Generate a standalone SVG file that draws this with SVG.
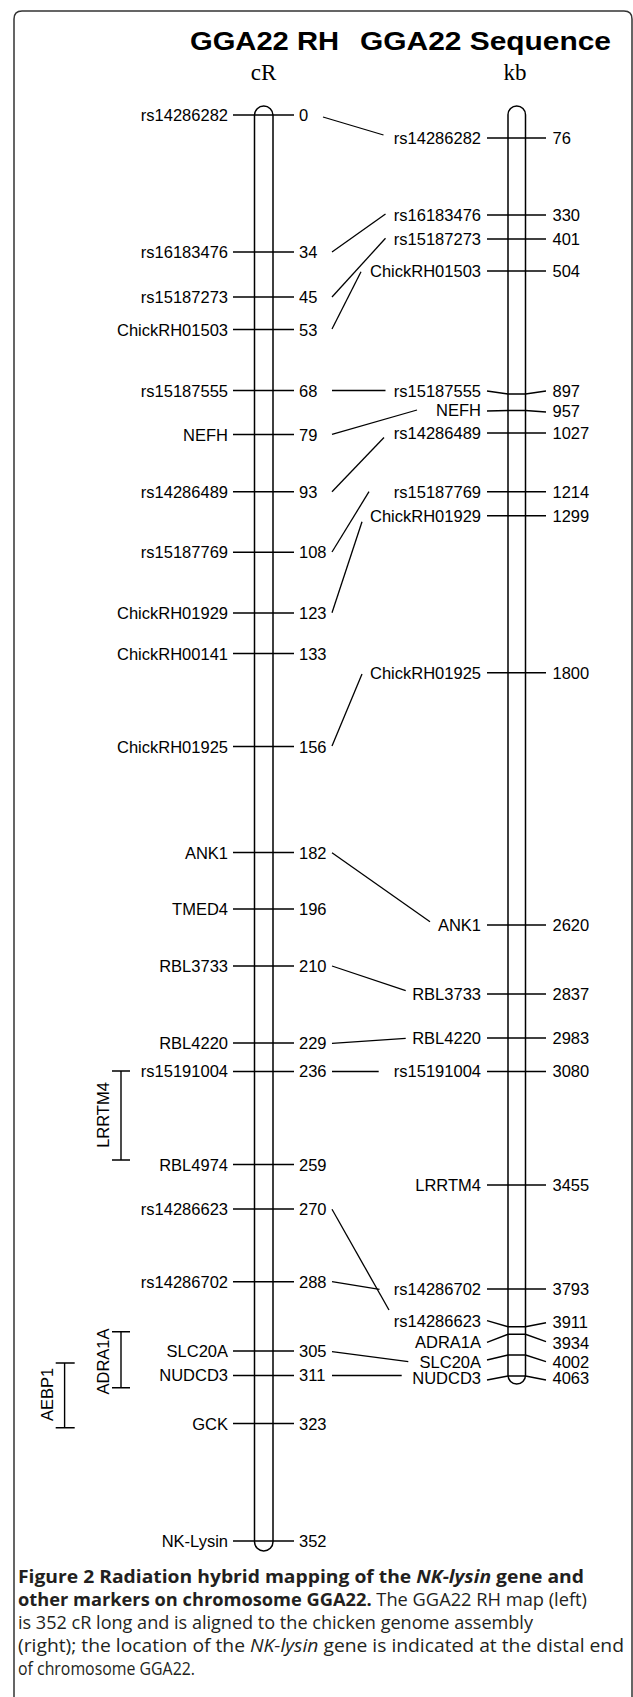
<svg xmlns="http://www.w3.org/2000/svg" width="633" height="1697" viewBox="0 0 633 1697">
<style>
.lb{font-family:"Liberation Sans",Arial,sans-serif;font-size:16.5px;fill:#000}
.e{text-anchor:end}
.tk{stroke:#000;stroke-width:1.4;fill:none}
.cn{stroke:#000;stroke-width:1.3;fill:none}
.chr{stroke:#000;stroke-width:1.5;fill:#fff}
.ttl{font-family:"Liberation Sans",Arial,sans-serif;font-weight:bold;font-size:26px;fill:#000}
.unit{font-family:"Liberation Serif","Times New Roman",serif;font-size:23px;fill:#000;text-anchor:middle}
.cap{font-family:"Open Sans",sans-serif;font-size:18.5px;fill:#231f20}
.b{font-weight:bold}
.i{font-style:italic}
</style>
<rect width="633" height="1697" fill="#fff"/>
<path d="M14,1697 V19 Q14,11 22,11 H624 Q632,11 632,19 V1697" fill="none" stroke="#333" stroke-width="1.5"/>
<g id="title">
<text class="ttl" x="190" y="50" textLength="149" lengthAdjust="spacingAndGlyphs">GGA22 RH</text>
<text class="ttl" x="360" y="50" textLength="251" lengthAdjust="spacingAndGlyphs">GGA22 Sequence</text>
<text class="unit" x="263.5" y="80">cR</text>
<text class="unit" x="515" y="80">kb</text>
</g>
<g id="chr-rh"><rect class="chr" x="254.5" y="106" width="18.5" height="1445" rx="9.25"/></g>
<g id="chr-seq"><rect class="chr" x="508" y="106" width="17.5" height="1278" rx="8.75"/></g>
<g id="rh-markers">
<g id="rh-0"><path class="tk" d="M233,115H294"/><text class="lb e" x="228" y="121">rs14286282</text><text class="lb" x="299" y="121">0</text></g>
<g id="rh-34"><path class="tk" d="M233,252H294"/><text class="lb e" x="228" y="258">rs16183476</text><text class="lb" x="299" y="258">34</text></g>
<g id="rh-45"><path class="tk" d="M233,297H294"/><text class="lb e" x="228" y="303">rs15187273</text><text class="lb" x="299" y="303">45</text></g>
<g id="rh-53"><path class="tk" d="M233,329.5H294"/><text class="lb e" x="228" y="335.5">ChickRH01503</text><text class="lb" x="299" y="335.5">53</text></g>
<g id="rh-68"><path class="tk" d="M233,390.5H294"/><text class="lb e" x="228" y="396.5">rs15187555</text><text class="lb" x="299" y="396.5">68</text></g>
<g id="rh-79"><path class="tk" d="M233,434.5H294"/><text class="lb e" x="228" y="440.5">NEFH</text><text class="lb" x="299" y="440.5">79</text></g>
<g id="rh-93"><path class="tk" d="M233,491.7H294"/><text class="lb e" x="228" y="497.7">rs14286489</text><text class="lb" x="299" y="497.7">93</text></g>
<g id="rh-108"><path class="tk" d="M233,552.3H294"/><text class="lb e" x="228" y="558.3">rs15187769</text><text class="lb" x="299" y="558.3">108</text></g>
<g id="rh-123"><path class="tk" d="M233,613H294"/><text class="lb e" x="228" y="619">ChickRH01929</text><text class="lb" x="299" y="619">123</text></g>
<g id="rh-133"><path class="tk" d="M233,653.5H294"/><text class="lb e" x="228" y="659.5">ChickRH00141</text><text class="lb" x="299" y="659.5">133</text></g>
<g id="rh-156"><path class="tk" d="M233,746.5H294"/><text class="lb e" x="228" y="752.5">ChickRH01925</text><text class="lb" x="299" y="752.5">156</text></g>
<g id="rh-182"><path class="tk" d="M233,852.5H294"/><text class="lb e" x="228" y="858.5">ANK1</text><text class="lb" x="299" y="858.5">182</text></g>
<g id="rh-196"><path class="tk" d="M233,909H294"/><text class="lb e" x="228" y="915">TMED4</text><text class="lb" x="299" y="915">196</text></g>
<g id="rh-210"><path class="tk" d="M233,966H294"/><text class="lb e" x="228" y="972">RBL3733</text><text class="lb" x="299" y="972">210</text></g>
<g id="rh-229"><path class="tk" d="M233,1043H294"/><text class="lb e" x="228" y="1049">RBL4220</text><text class="lb" x="299" y="1049">229</text></g>
<g id="rh-236"><path class="tk" d="M233,1071.5H294"/><text class="lb e" x="228" y="1077">rs15191004</text><text class="lb" x="299" y="1077">236</text></g>
<g id="rh-259"><path class="tk" d="M233,1164.5H294"/><text class="lb e" x="228" y="1170.5">RBL4974</text><text class="lb" x="299" y="1170.5">259</text></g>
<g id="rh-270"><path class="tk" d="M233,1209H294"/><text class="lb e" x="228" y="1215">rs14286623</text><text class="lb" x="299" y="1215">270</text></g>
<g id="rh-288"><path class="tk" d="M233,1281.7H294"/><text class="lb e" x="228" y="1287.7">rs14286702</text><text class="lb" x="299" y="1287.7">288</text></g>
<g id="rh-305"><path class="tk" d="M233,1351H294"/><text class="lb e" x="228" y="1357">SLC20A</text><text class="lb" x="299" y="1357">305</text></g>
<g id="rh-311"><path class="tk" d="M233,1375.5H294"/><text class="lb e" x="228" y="1381.3">NUDCD3</text><text class="lb" x="299" y="1381.3">311</text></g>
<g id="rh-323"><path class="tk" d="M233,1423.5H294"/><text class="lb e" x="228" y="1429.5">GCK</text><text class="lb" x="299" y="1429.5">323</text></g>
<g id="rh-352"><path class="tk" d="M233,1541H294"/><text class="lb e" x="228" y="1547">NK-Lysin</text><text class="lb" x="299" y="1547">352</text></g>
</g>
<g id="seq-markers">
<g id="seq-76"><path class="tk" d="M487,138H546"/><text class="lb e" x="481" y="144">rs14286282</text><text class="lb" x="552.5" y="144">76</text></g>
<g id="seq-330"><path class="tk" d="M487,215H546"/><text class="lb e" x="481" y="221">rs16183476</text><text class="lb" x="552.5" y="221">330</text></g>
<g id="seq-401"><path class="tk" d="M487,239H546"/><text class="lb e" x="481" y="245">rs15187273</text><text class="lb" x="552.5" y="245">401</text></g>
<g id="seq-504"><path class="tk" d="M487,271H546"/><text class="lb e" x="481" y="277">ChickRH01503</text><text class="lb" x="552.5" y="277">504</text></g>
<g id="seq-897"><path class="tk" d="M487,391L508,394H525.5L546,391"/><text class="lb e" x="481" y="397">rs15187555</text><text class="lb" x="552.5" y="397">897</text></g>
<g id="seq-957"><path class="tk" d="M487,411L508,410.5H525.5L546,412"/><text class="lb e" x="481" y="416">NEFH</text><text class="lb" x="552.5" y="417">957</text></g>
<g id="seq-1027"><path class="tk" d="M487,433H546"/><text class="lb e" x="481" y="439">rs14286489</text><text class="lb" x="552.5" y="439">1027</text></g>
<g id="seq-1214"><path class="tk" d="M487,491.7H546"/><text class="lb e" x="481" y="497.7">rs15187769</text><text class="lb" x="552.5" y="497.7">1214</text></g>
<g id="seq-1299"><path class="tk" d="M487,515.7H546"/><text class="lb e" x="481" y="521.7">ChickRH01929</text><text class="lb" x="552.5" y="521.7">1299</text></g>
<g id="seq-1800"><path class="tk" d="M487,672.7H546"/><text class="lb e" x="481" y="678.7">ChickRH01925</text><text class="lb" x="552.5" y="678.7">1800</text></g>
<g id="seq-2620"><path class="tk" d="M487,925H546"/><text class="lb e" x="481" y="931">ANK1</text><text class="lb" x="552.5" y="931">2620</text></g>
<g id="seq-2837"><path class="tk" d="M487,994H546"/><text class="lb e" x="481" y="1000">RBL3733</text><text class="lb" x="552.5" y="1000">2837</text></g>
<g id="seq-2983"><path class="tk" d="M487,1038H546"/><text class="lb e" x="481" y="1044">RBL4220</text><text class="lb" x="552.5" y="1044">2983</text></g>
<g id="seq-3080"><path class="tk" d="M487,1071.5H546"/><text class="lb e" x="481" y="1077">rs15191004</text><text class="lb" x="552.5" y="1077">3080</text></g>
<g id="seq-3455"><path class="tk" d="M487,1185H546"/><text class="lb e" x="481" y="1191">LRRTM4</text><text class="lb" x="552.5" y="1191">3455</text></g>
<g id="seq-3793"><path class="tk" d="M487,1289H546"/><text class="lb e" x="481" y="1295">rs14286702</text><text class="lb" x="552.5" y="1295">3793</text></g>
<g id="seq-3911"><path class="tk" d="M487,1320.7L508,1326.7H525.5L546,1322.7"/><text class="lb e" x="481" y="1326.7">rs14286623</text><text class="lb" x="552.5" y="1327.7">3911</text></g>
<g id="seq-3934"><path class="tk" d="M487,1342.3L508,1334.3H525.5L546,1341.7"/><text class="lb e" x="481" y="1348.3">ADRA1A</text><text class="lb" x="552.5" y="1349.3">3934</text></g>
<g id="seq-4002"><path class="tk" d="M487,1360L508,1355H525.5L546,1361.7"/><text class="lb e" x="481" y="1367.7">SLC20A</text><text class="lb" x="552.5" y="1368">4002</text></g>
<g id="seq-4063"><path class="tk" d="M487,1380L508,1376H525.5L546,1380"/><text class="lb e" x="481" y="1383.5">NUDCD3</text><text class="lb" x="552.5" y="1384">4063</text></g>
</g>
<g id="connectors">
<path class="cn" d="M323,117L383.5,135"/>
<path class="cn" d="M332,252L385.5,214"/>
<path class="cn" d="M332,297L385.5,238.3"/>
<path class="cn" d="M332,329L361,271.7"/>
<path class="cn" d="M332,390.5H385.5"/>
<path class="cn" d="M332,434.3L417,410"/>
<path class="cn" d="M332,491.7L384,437.5"/>
<path class="cn" d="M332,552L369,491.7"/>
<path class="cn" d="M332,612.7L362,521.7"/>
<path class="cn" d="M332,746L362,674"/>
<path class="cn" d="M332,852.7L430,921.7"/>
<path class="cn" d="M332,966L405.7,990.7"/>
<path class="cn" d="M332,1043.3L405.7,1038.3"/>
<path class="cn" d="M332,1071.5H378.7"/>
<path class="cn" d="M332,1209.3L389,1310"/>
<path class="cn" d="M332,1281.7L379.5,1289.3"/>
<path class="cn" d="M332,1351.7L408.3,1361.7"/>
<path class="cn" d="M332,1375.5H401.7"/>
</g>
<g id="bracket-lrrtm4">
<path class="tk" d="M121,1071V1160M112,1071H130M112,1160H130"/>
<text class="lb" transform="translate(109,1115) rotate(-90)" text-anchor="middle">LRRTM4</text>
</g>
<g id="bracket-adra1a">
<path class="tk" d="M121,1331.7V1387.7M112,1331.7H130M112,1387.7H130"/>
<text class="lb" transform="translate(109,1361.5) rotate(-90)" text-anchor="middle">ADRA1A</text>
</g>
<g id="bracket-aebp1">
<path class="tk" d="M64.6,1363V1427.7M55.7,1363H74.7M55.7,1427.7H74.7"/>
<text class="lb" transform="translate(53,1394.5) rotate(-90)" text-anchor="middle">AEBP1</text>
</g>
<g id="caption">
<text class="cap" x="18" y="1583" textLength="566" lengthAdjust="spacingAndGlyphs"><tspan class="b">Figure 2 Radiation hybrid mapping of the </tspan><tspan class="b i">NK-lysin</tspan><tspan class="b"> gene and</tspan></text>
<text class="cap" x="18" y="1606" textLength="569" lengthAdjust="spacingAndGlyphs"><tspan class="b">other markers on chromosome GGA22.</tspan> The GGA22 RH map (left)</text>
<text class="cap" x="18" y="1629" textLength="515" lengthAdjust="spacingAndGlyphs">is 352 cR long and is aligned to the chicken genome assembly</text>
<text class="cap" x="18" y="1652" textLength="606" lengthAdjust="spacingAndGlyphs">(right); the location of the <tspan class="i">NK-lysin</tspan> gene is indicated at the distal end</text>
<text class="cap" x="18" y="1675" textLength="177" lengthAdjust="spacingAndGlyphs">of chromosome GGA22.</text>
</g>
</svg>
